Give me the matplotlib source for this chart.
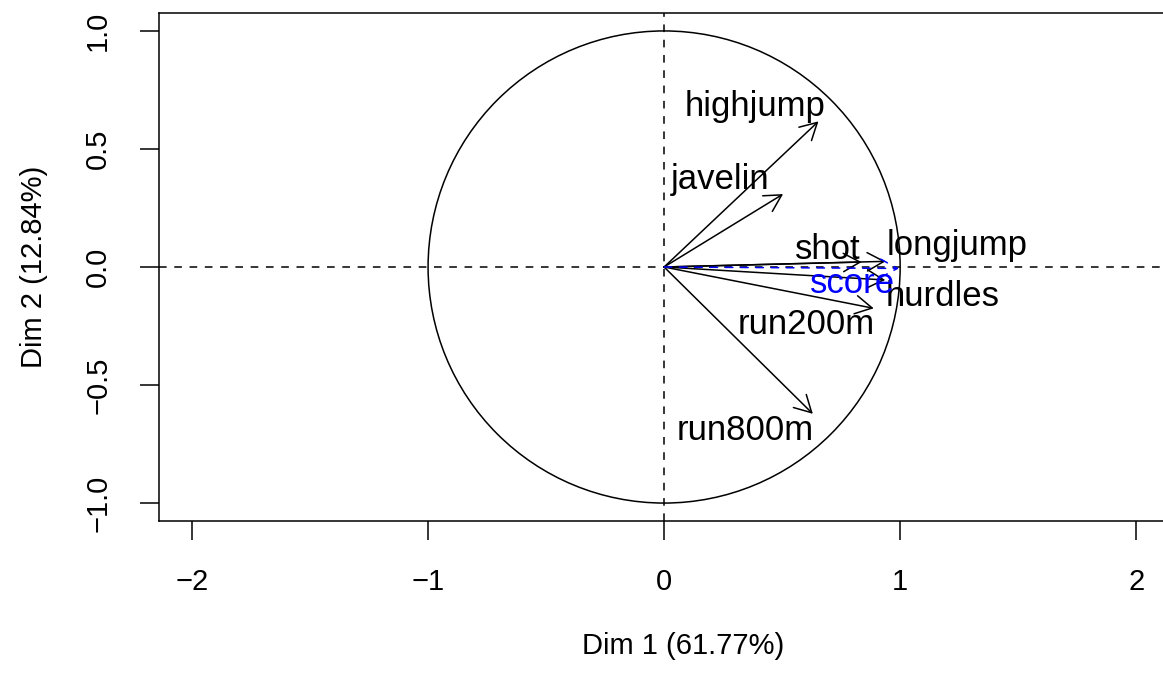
import numpy as np
import matplotlib.pyplot as plt
from matplotlib.patches import Circle

plt.rcParams['font.family'] = ['Liberation Sans', 'DejaVu Sans']
plt.rcParams['axes.unicode_minus'] = True

# correlations of each event with the first two dimensions
variables = ['hurdles', 'highjump', 'shot', 'run200m', 'longjump', 'javelin', 'run800m']
dim1 = [0.937, 0.654, 0.837, 0.888, 0.938, 0.504, 0.630]
dim2 = [-0.055, 0.617, 0.021, -0.175, 0.024, 0.309, -0.622]

# supplementary variable
supp_name = 'score'
supp_dim1 = 0.995
supp_dim2 = -0.006

# label positions after repelling
label_pos = {
    'hurdles': (1.182, -0.127),
    'highjump': (0.386, 0.682),
    'shot': (0.695, 0.076),
    'run200m': (0.602, -0.242),
    'longjump': (1.242, 0.093),
    'javelin': (0.237, 0.369),
    'run800m': (0.343, -0.691),
}
supp_label_pos = (0.80, -0.072)

xticks = [-2, -1, 0, 1, 2]
yticks = [-1.0, -0.5, 0.0, 0.5, 1.0]
inertia = [61.77, 12.84]

W, H = 1163, 677
fig = plt.figure(figsize=(W / 100, H / 100), dpi=100)
# plot region runs past the right edge of the image
left, right, top, bottom = 159, 1207, 13, 521
ax = fig.add_axes([left / W, 1 - bottom / H, (right - left) / W, (bottom - top) / H])
ax.set_xlim(-2.14, 2.30)
ax.set_ylim(-1.076, 1.076)

fs_axis = 21
fs_lab = 25
ax.add_patch(Circle((0, 0), 1, fill=False, lw=1.1, color='black'))
ax.axhline(0, color='black', lw=1.1, ls=(0, (5, 5)))
ax.axvline(0, color='black', lw=1.1, ls=(0, (5, 5)))

arrow = dict(arrowstyle='->,head_length=0.6,head_width=0.33', lw=1.1,
             color='black', shrinkA=0, shrinkB=0, mutation_scale=20)
for name, x, y in zip(variables, dim1, dim2):
    ax.annotate('', xy=(x, y), xytext=(0, 0), arrowprops=arrow)
    lx, ly = label_pos[name]
    ax.text(lx, ly, name, fontsize=fs_lab, ha='center', va='center')

supp_arrow = dict(arrow, color='blue', linestyle=(0, (5, 5)))
ax.annotate('', xy=(supp_dim1, supp_dim2), xytext=(0, 0), arrowprops=supp_arrow)
ax.text(*supp_label_pos, supp_name, fontsize=fs_lab, ha='center', va='center', color='blue')

def fmt(v, nd):
    s = f'{v:.{nd}f}'
    return s.replace('-', '\u2212')

ax.set_xticks(xticks)
ax.set_xticklabels([fmt(t, 0) for t in xticks])
ax.set_yticks(yticks)
ax.set_yticklabels([fmt(t, 1) for t in yticks], rotation=90, va='center')
ax.tick_params(direction='out', length=13.7, width=1.1, labelsize=fs_axis, pad=20)
for s in ax.spines.values():
    s.set_linewidth(1.1)
    s.set_clip_on(False)

ax.set_xlabel(f'Dim 1 ({inertia[0]:.2f}%)', fontsize=fs_axis, labelpad=26)
ax.set_ylabel(f'Dim 2 ({inertia[1]:.2f}%)', fontsize=fs_axis, labelpad=26)

fig.savefig('out.png', dpi=100)
